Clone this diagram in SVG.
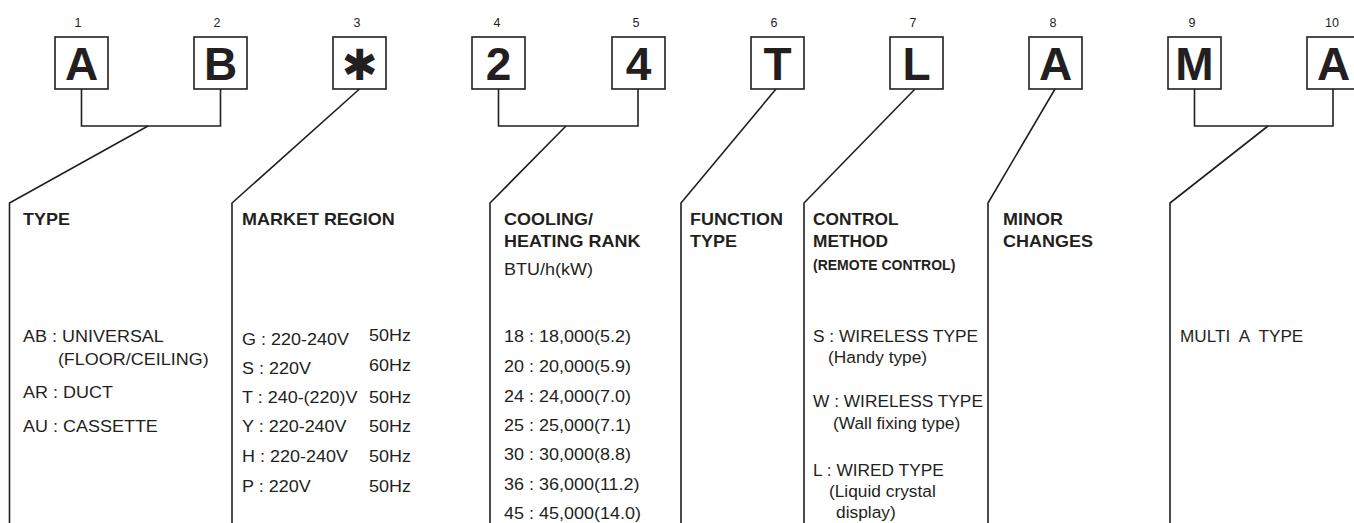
<svg xmlns="http://www.w3.org/2000/svg" width="1354" height="523" viewBox="0 0 1354 523">
<style>
.box{fill:#fff;stroke:#231f20;stroke-width:1.6}
.ln{fill:none;stroke:#231f20;stroke-width:1.6}
.big{font-family:"Liberation Sans",Arial,sans-serif;font-weight:bold;font-size:46px;fill:#231f20;text-anchor:middle}
.ast{font-family:"DejaVu Sans",sans-serif;font-weight:bold;font-size:43px;fill:#231f20;text-anchor:middle}
.num{font-family:"Liberation Sans",Arial,sans-serif;font-size:12.5px;fill:#231f20;text-anchor:middle}
.h{font-family:"Liberation Sans",Arial,sans-serif;font-weight:bold;font-size:16.5px;fill:#231f20}
.t{font-family:"Liberation Sans",Arial,sans-serif;font-size:16.5px;fill:#231f20}
.sub{font-family:"Liberation Sans",Arial,sans-serif;font-weight:bold;font-size:14px;fill:#231f20}
</style>
<rect width="1354" height="523" fill="#fff"/>
<g id="connectors">
<path class="ln" d="M81.5,89 V126 H220.5 V89"/>
<path class="ln" d="M148,126 L9.5,203 V523"/>
<path class="ln" d="M359.5,89 L232,203 V523"/>
<path class="ln" d="M498.5,89 V126 H638 V89"/>
<path class="ln" d="M566,126 L490,203 V523"/>
<path class="ln" d="M776,89 L681,203 V523"/>
<path class="ln" d="M915,89 L804,203 V523"/>
<path class="ln" d="M1055,89 L988,203 V523"/>
<path class="ln" d="M1194.5,89 V126 H1333 V89"/>
<path class="ln" d="M1268,126 L1170,203 V523"/>
</g>
<g id="node-1"><text class="num" x="78" y="27">1</text><rect class="box" x="55" y="37" width="53" height="52"/><text class="big" x="81.5" y="80">A</text></g>
<g id="node-2"><text class="num" x="217" y="27">2</text><rect class="box" x="194" y="37" width="53" height="52"/><text class="big" x="220.5" y="80">B</text></g>
<g id="node-3"><text class="num" x="357" y="27">3</text><rect class="box" x="333" y="37" width="53" height="52"/><text class="ast" x="359.5" y="80">✱</text></g>
<g id="node-4"><text class="num" x="497" y="27">4</text><rect class="box" x="472" y="37" width="53" height="52"/><text class="big" x="498.5" y="80">2</text></g>
<g id="node-5"><text class="num" x="636" y="27">5</text><rect class="box" x="612" y="37" width="53" height="52"/><text class="big" x="638.5" y="80">4</text></g>
<g id="node-6"><text class="num" x="774" y="27">6</text><rect class="box" x="751" y="37" width="53" height="52"/><text class="big" x="777.5" y="80">T</text></g>
<g id="node-7"><text class="num" x="913" y="27">7</text><rect class="box" x="890" y="37" width="53" height="52"/><text class="big" x="916.5" y="80">L</text></g>
<g id="node-8"><text class="num" x="1053" y="27">8</text><rect class="box" x="1029" y="37" width="53" height="52"/><text class="big" x="1055.5" y="80">A</text></g>
<g id="node-9"><text class="num" x="1192" y="27">9</text><rect class="box" x="1168" y="37" width="53" height="52"/><text class="big" x="1194.5" y="80">M</text></g>
<g id="node-10"><text class="num" x="1332" y="27">10</text><rect class="box" x="1307" y="37" width="53" height="52"/><text class="big" x="1333.5" y="80">A</text></g>

<g id="desc-type" transform="translate(23,0) scale(1.09,1)">
<text class="h" x="0" y="225">TYPE</text>
<text class="t" x="0" y="342">AB : UNIVERSAL</text>
<text class="t" x="32" y="365">(FLOOR/CEILING)</text>
<text class="t" x="0" y="398">AR : DUCT</text>
<text class="t" x="0" y="432">AU : CASSETTE</text>
</g>
<g id="desc-market" transform="translate(242,0) scale(1.09,1)">
<text class="h" x="0" y="225">MARKET REGION</text>
<text class="t" x="0" y="345">G : 220-240V</text><text class="t" x="116.5" y="341">50Hz</text>
<text class="t" x="0" y="374">S : 220V</text><text class="t" x="116.5" y="371">60Hz</text>
<text class="t" x="0" y="403">T : 240-(220)V</text><text class="t" x="116.5" y="403">50Hz</text>
<text class="t" x="0" y="432">Y : 220-240V</text><text class="t" x="116.5" y="432">50Hz</text>
<text class="t" x="0" y="462">H : 220-240V</text><text class="t" x="116.5" y="462">50Hz</text>
<text class="t" x="0" y="492">P : 220V</text><text class="t" x="116.5" y="492">50Hz</text>
</g>
<g id="desc-rank" transform="translate(504,0) scale(1.09,1)">
<text class="h" x="0" y="225">COOLING/</text>
<text class="h" x="0" y="247">HEATING RANK</text>
<text class="t" x="0" y="275">BTU/h(kW)</text>
<text class="t" x="0" y="342">18 : 18,000(5.2)</text>
<text class="t" x="0" y="372">20 : 20,000(5.9)</text>
<text class="t" x="0" y="402">24 : 24,000(7.0)</text>
<text class="t" x="0" y="431">25 : 25,000(7.1)</text>
<text class="t" x="0" y="460">30 : 30,000(8.8)</text>
<text class="t" x="0" y="490">36 : 36,000(11.2)</text>
<text class="t" x="0" y="519">45 : 45,000(14.0)</text>
</g>
<g id="desc-function" transform="translate(690,0) scale(1.09,1)">
<text class="h" x="0" y="225">FUNCTION</text>
<text class="h" x="0" y="247">TYPE</text>
</g>
<g id="desc-control">
<g transform="translate(813,0) scale(1.05,1)">
<text class="h" x="0" y="225">CONTROL</text>
<text class="h" x="0" y="247">METHOD</text>
<text class="t" x="0" y="342">S : WIRELESS TYPE</text>
<text class="t" x="14.3" y="363">(Handy type)</text>
<text class="t" x="0" y="407">W : WIRELESS TYPE</text>
<text class="t" x="19" y="429">(Wall fixing type)</text>
<text class="t" x="0" y="476">L : WIRED TYPE</text>
<text class="t" x="15.2" y="497">(Liquid crystal</text>
<text class="t" x="22" y="518">display)</text>
</g>
<text class="sub" x="813" y="270">(REMOTE CONTROL)</text>
</g>
<g id="desc-minor" transform="translate(1003,0) scale(1.09,1)">
<text class="h" x="0" y="225">MINOR</text>
<text class="h" x="0" y="247">CHANGES</text>
</g>
<g id="desc-multi" transform="translate(1180,0) scale(1.04,1)">
<text class="t" x="0" y="342" xml:space="preserve">MULTI  A  TYPE</text>
</g>
</svg>
